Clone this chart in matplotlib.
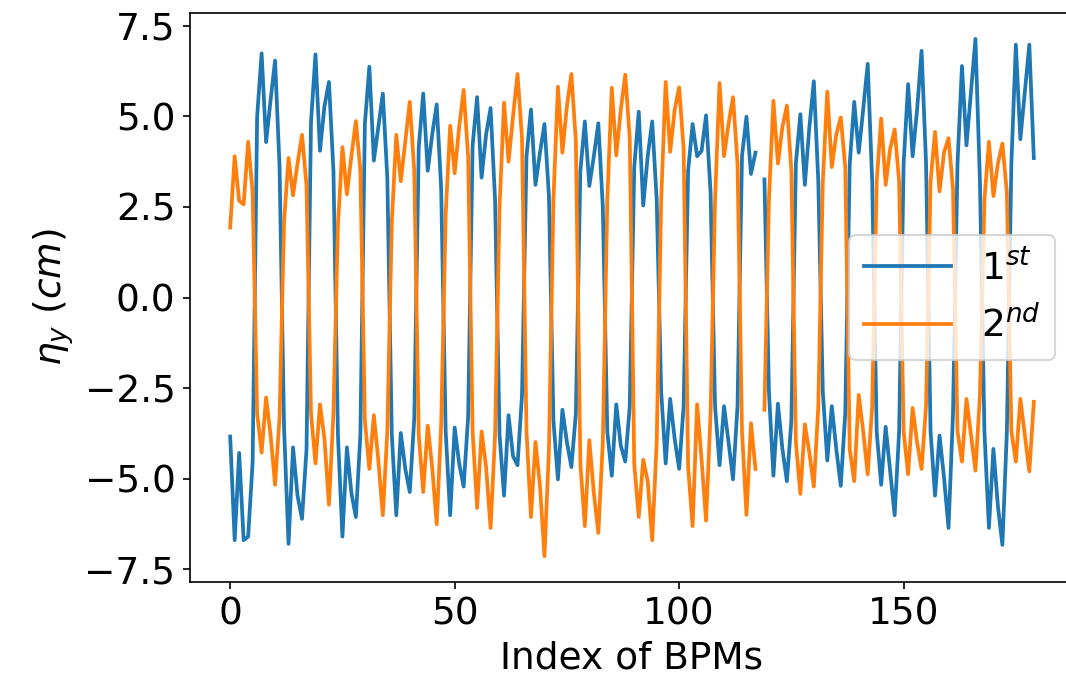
import matplotlib
matplotlib.use("Agg")
import matplotlib.pyplot as plt
import numpy as np

# vertical dispersion at each BPM (cm); index 118 missing
first = [
    -3.84, -6.70, -4.29, -6.70, -6.60, -4.55, 4.99, 6.74, 4.29, 5.45,
    6.54, 3.60, -3.60, -6.80, -4.14, -5.47, -6.11, -4.20, 4.84, 6.71,
    4.05, 5.28, 5.95, 3.50, -3.80, -6.60, -4.14, -5.40, -6.06, -3.79,
    4.79, 6.37, 3.78, 4.70, 5.63, 3.30, -3.80, -6.01, -3.74, -4.73,
    -5.37, -3.35, 4.15, 5.63, 3.50, 4.50, 5.33, 3.00, -3.70, -6.01,
    -3.59, -4.58, -5.22, -3.30, 4.20, 5.53, 3.31, 4.50, 5.23, 2.70,
    -3.80, -5.47, -3.25, -4.38, -4.63, -2.70, 3.90, 5.19, 3.11, 4.00,
    4.79, 2.80, -3.40, -5.02, -3.10, -3.99, -4.68, -3.20, 3.50, 4.86,
    3.08, 3.90, 4.81, 2.50, -3.70, -4.92, -2.95, -4.09, -4.53, -3.00,
    3.60, 5.13, 2.54, 3.90, 4.86, 2.70, -2.60, -4.58, -2.80, -3.90,
    -4.73, -3.00, 3.50, 4.79, 3.90, 4.05, 5.03, 2.90, -3.00, -4.63,
    -3.00, -3.99, -5.02, -3.00, 3.90, 4.99, 3.41, 4.00, np.nan, 3.26,
    -2.60, -4.92, -2.93, -4.18, -5.07, -3.40, 3.70, 5.06, 3.11, 4.69,
    5.97, 3.20, -2.60, -4.50, -3.00, -4.18, -5.20, -3.20, 3.70, 5.40,
    4.00, 5.20, 6.45, 3.20, -3.70, -5.17, -3.57, -4.78, -6.01, -3.70,
    3.70, 5.89, 3.90, 5.18, 6.81, 3.70, -3.70, -5.47, -3.81, -4.97,
    -6.36, -3.20, 3.70, 6.39, 4.20, 5.68, 7.14, 3.20, -3.70, -6.36,
    -4.18, -5.76, -6.83, -3.70, 3.70, 6.98, 4.37, 5.68, 6.98, 3.85,
]
second = [
    1.93, 3.90, 2.67, 2.57, 4.30, 2.90, -3.20, -4.28, -2.76, -3.80,
    -5.17, -3.30, 2.10, 3.85, 2.82, 3.70, 4.49, 3.10, -3.20, -4.58,
    -2.95, -3.90, -5.72, -3.20, 2.00, 4.15, 2.85, 3.90, 4.87, 3.50,
    -3.40, -4.73, -3.25, -4.50, -6.01, -3.70, 2.10, 4.49, 3.21, 4.30,
    5.40, 3.50, -3.80, -5.37, -3.54, -4.70, -6.26, -3.50, 2.30, 4.74,
    3.43, 4.70, 5.73, 3.90, -3.70, -5.81, -3.70, -4.68, -6.36, -3.80,
    2.50, 5.38, 3.75, 5.00, 6.17, 4.40, -3.70, -6.06, -3.99, -5.20,
    -7.14, -4.20, 2.70, 5.82, 4.00, 5.28, 6.17, 4.30, -4.60, -6.31,
    -3.94, -5.40, -6.50, -4.00, 2.70, 5.79, 3.92, 5.18, 6.15, 4.40,
    -4.60, -6.06, -4.48, -5.07, -6.70, -4.00, 2.70, 5.95, 4.02, 5.18,
    5.80, 4.10, -4.68, -6.31, -2.95, -4.48, -6.16, -3.20, 2.70, 5.92,
    3.90, 4.79, 5.53, 3.70, -3.70, -6.00, -3.47, -4.73, np.nan, -3.10,
    2.70, 5.43, 3.70, 4.70, 5.30, 3.50, -4.00, -5.42, -3.50, -4.28,
    -5.22, -3.00, 3.20, 5.68, 3.60, 4.50, 4.97, 3.60, -4.20, -5.07,
    -2.69, -3.70, -4.88, -3.00, 3.20, 4.94, 3.11, 4.10, 4.64, 3.20,
    -3.70, -4.88, -3.05, -4.00, -4.73, -3.00, 3.20, 4.57, 2.93, 4.00,
    4.40, 3.00, -3.70, -4.53, -2.80, -3.80, -4.78, -2.70, 2.70, 4.30,
    2.80, 3.70, 4.25, 2.90, -3.70, -4.53, -2.80, -3.80, -4.80, -2.88,
]
labels = [r'$1^{st}$', r'$2^{nd}$']

bpm = np.arange(len(first))

plt.rcParams['font.size'] = 18

fig = plt.figure(figsize=(1066 / 150, 686 / 150), dpi=150)
# axes run past the right edge of the figure, as in the original crop
ax = fig.add_axes([190 / 1066, 104 / 686, 884 / 1066, 569 / 686])

ax.plot(bpm, first, lw=1.8, label=labels[0])
ax.plot(bpm, second, lw=1.8, label=labels[1])

ax.set_xlabel('Index of BPMs')
ax.set_ylabel(r'$\eta_y\ (cm)$')
ax.set_xticks([0, 50, 100, 150])
ax.set_yticks([-7.5, -5.0, -2.5, 0.0, 2.5, 5.0, 7.5])
ax.legend(loc='center right', handlelength=2.3)

fig.savefig('out.png', dpi=150)
